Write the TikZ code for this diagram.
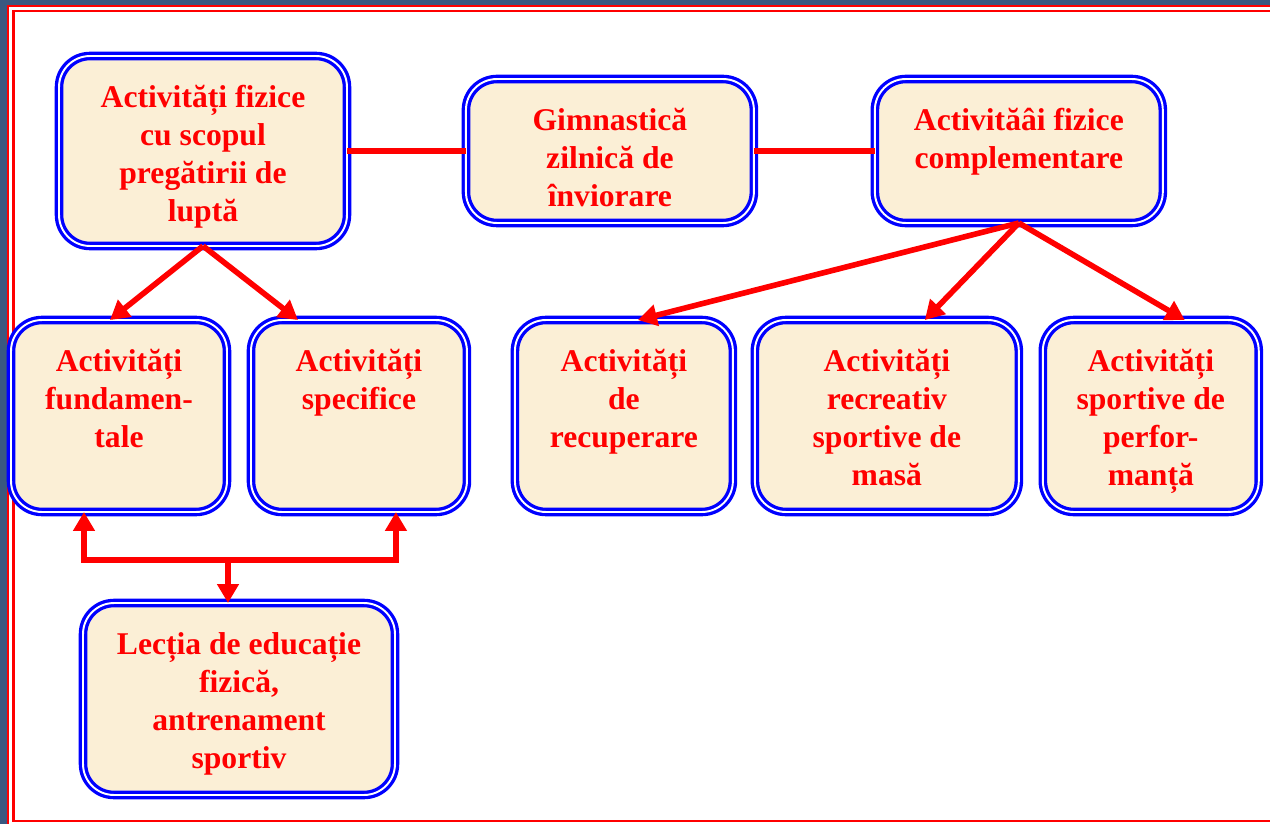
\documentclass[tikz,border=0pt]{standalone}
\usepackage{fontspec}
\setmainfont{Liberation Serif}
\usetikzlibrary{positioning,arrows.meta}

\definecolor{cream}{RGB}{251,239,214}
\definecolor{backblue}{RGB}{58,88,128}

\begin{document}
\begin{tikzpicture}[x=0.02cm, y=-0.02cm,
	box/.style 2 args={draw=blue, line width=1.9pt, double=white, double distance=1.1pt,
		rounded corners=0.62cm, fill=cream, text=red, align=flush center,
		inner sep=0pt, outer sep=0pt,
		font=\fontsize{18}{21.8}\selectfont\bfseries,
		text width=#1, text height=1.02cm, text depth=#2},
	link/.style={draw=red, line width=3.2pt},
	arr/.style={link, -{Triangle[length=0.38cm, width=0.42cm]}}]
			
			\useasboundingbox (0,0) rectangle (1270,824);
			\fill[backblue] (0,0) rectangle (1270,824);
			\draw[red, line width=1.2pt, fill=white] (8,6) rectangle (1290,840);
			\draw[red, line width=1.2pt] (13.5,11) rectangle (1285,821);
			
			% top row
			\node[box={5.76cm}{2.78cm}] (lupta) at (203,151) {Activități fizice\\cu scopul\\pregătirii de\\luptă};
			\node[box={5.76cm}{1.86cm}, right=2.38cm of lupta] (gimn) {Gimnastică\\zilnică de\\înviorare};
			\node[box={5.76cm}{1.86cm}, right=2.42cm of gimn] (compl) {Activităâi fizice\\complementare};
			
			% second row
			\node[box={4.32cm}{2.82cm}] (fund) at (119,416) {Activități\\fundamen-\\tale};
			\node[box={4.32cm}{2.82cm}, right=0.48cm of fund] (spec) {Activități\\specifice};
			\node[box={4.36cm}{2.82cm}, right=0.96cm of spec] (recup) {Activități\\de\\recuperare};
			\node[box={5.28cm}{2.82cm}, right=0.44cm of recup] (masa) {Activități\\recreativ\\sportive de\\masă};
			\node[box={4.32cm}{2.82cm}, right=0.48cm of masa] (perf) {Activități\\sportive de\\perfor-\\manță};
			
			\node[box={6.24cm}{2.82cm}] (lectie) at (239,699) {Lecția de educație\\fizică,\\antrenament\\sportiv};
			
			\draw[link] (lupta.east) -- (gimn.west);
			\draw[link] (gimn.east) -- (compl.west);
			
			\draw[arr] (lupta.south) -- ([xshift=-0.18cm]fund.north);
			\draw[arr] (lupta.south) -- ([xshift=-1.22cm]spec.north);
			\draw[arr] (compl.south) -- ([xshift=0.28cm]recup.north);
			\draw[arr] (compl.south) -- ([xshift=0.76cm]masa.north);
			\draw[arr] (compl.south) -- ([xshift=0.68cm]perf.north);
			
			\coordinate (fork) at (228,560);
			\draw[arr] (fork) -- ([xshift=-0.22cm]lectie.north);
			\draw[arr] (fork) -| ([xshift=-0.7cm]fund.south);
			\draw[arr] (fork) -| ([xshift=0.74cm]spec.south);
			
\end{tikzpicture}
\end{document}
